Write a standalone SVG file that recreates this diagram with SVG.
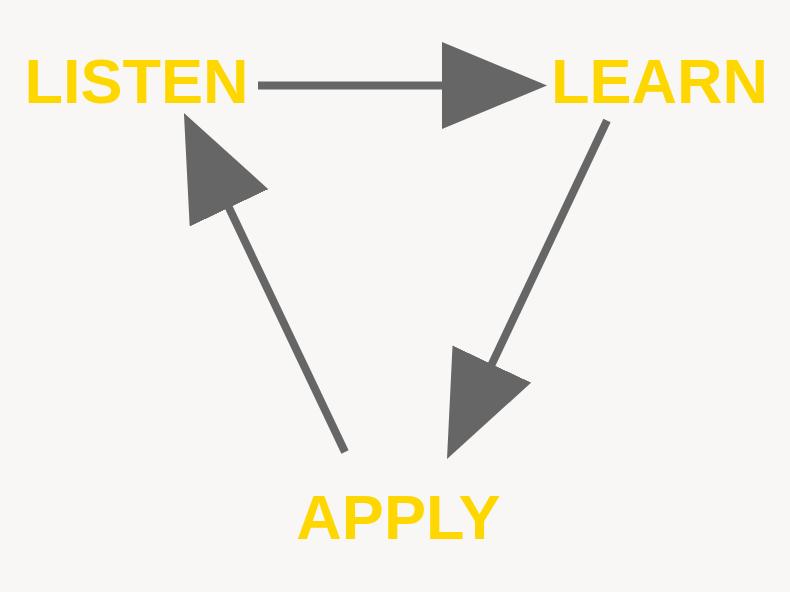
<svg xmlns="http://www.w3.org/2000/svg" width="790" height="592" viewBox="0 0 790 592">
  <style>
    .lbl { font-family: "Liberation Sans", Arial, sans-serif; font-weight: bold; font-size: 63px; fill: #FFD700; text-anchor: middle; }
    .edge { stroke: #666666; stroke-width: 8; fill: none; marker-end: url(#head); }
  </style>
  <defs>
    <marker id="head" markerUnits="userSpaceOnUse" markerWidth="106" markerHeight="88" refX="10" refY="43.5" orient="auto" viewBox="0 0 106 88">
      <path d="M0,0 L105,43.5 L0,87 Z" fill="#666666"/>
    </marker>
  </defs>
  <rect x="0" y="0" width="790" height="592" fill="#F8F7F6"/>
  <g id="connectors">
    <path class="edge" d="M258,85.5 L452,85.5"/>
    <path class="edge" d="M607,120.5 L487.6,373.1"/>
    <path class="edge" d="M345,452 L224.7,198.8"/>
  </g>
  <g id="node-listen"><text class="lbl" x="136.5" y="103">LISTEN</text></g>
  <g id="node-learn"><text class="lbl" x="659.5" y="103">LEARN</text></g>
  <g id="node-apply"><text class="lbl" x="398.5" y="539">APPLY</text></g>
</svg>
